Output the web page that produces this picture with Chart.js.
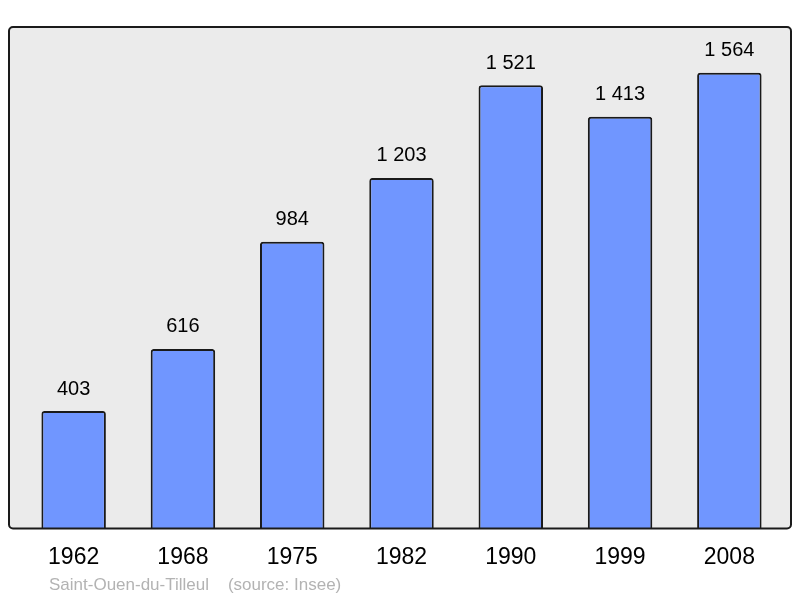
<!DOCTYPE html>
<html><head><meta charset="utf-8">
<script src="https://cdn.jsdelivr.net/npm/chart.js@4/dist/chart.umd.min.js"></script>
<style>html,body{margin:0;padding:0;background:#fff}#wrap{width:800px;height:598px}</style>
</head><body><div id="wrap"><canvas id="c" width="800" height="598"></canvas></div>
<script>
const years = ["1962","1968","1975","1982","1990","1999","2008"];
const population = [403, 616, 984, 1203, 1521, 1413, 1564];
const sourceText = "Saint-Ouen-du-Tilleul    (source: Insee)";

function fmt(v){ return String(v).replace(/\B(?=(\d{3})+(?!\d))/g, " "); }

const framePlugin = {
  id: 'frame',
  beforeDraw(chart){
    const {ctx, chartArea:a} = chart;
    const x0 = a.left - 10, x1 = a.right + 7, y0 = a.top, y1 = a.bottom;
    ctx.save();
    ctx.beginPath();
    ctx.roundRect(x0, y0, x1 - x0, y1 - y0, 4);
    ctx.fillStyle = '#ebebeb';
    ctx.fill();
    ctx.restore();
  },
  afterDatasetsDraw(chart){
    const {ctx, chartArea:a} = chart;
    const x0 = a.left - 10, x1 = a.right + 7, y0 = a.top, y1 = a.bottom;
    ctx.save();
    ctx.beginPath();
    ctx.roundRect(x0, y0, x1 - x0, y1 - y0, 4);
    ctx.lineWidth = 2;
    ctx.strokeStyle = '#1a1a1a';
    ctx.stroke();
    const meta = chart.getDatasetMeta(0);
    ctx.fillStyle = '#000';
    ctx.font = '20px "Liberation Sans", Arial, sans-serif';
    ctx.textAlign = 'center';
    ctx.textBaseline = 'middle';
    meta.data.forEach((bar, i) => {
      ctx.fillText(fmt(population[i]), bar.x, bar.y - 22);
    });
    ctx.font = '17px "Liberation Sans", Arial, sans-serif';
    ctx.fillStyle = '#b3b3b3';
    ctx.textAlign = 'left';
    ctx.fillText(sourceText, 49, 585);
    ctx.restore();
  }
};

new Chart(document.getElementById('c'), {
  type: 'bar',
  data: {
    labels: years,
    datasets: [{
      data: population,
      backgroundColor: '#7096ff',
      borderColor: '#1a1a1a',
      borderWidth: 2,
      borderRadius: {topLeft: 3, topRight: 3, bottomLeft: 0, bottomRight: 0},
      borderSkipped: 'bottom',
      categoryPercentage: 1,
      barPercentage: 0.59
    }]
  },
  options: {
    responsive: false,
    animation: false,
    devicePixelRatio: 1,
    layout: { padding: { left: 19, right: 16, top: 27, bottom: 12 } },
    plugins: { legend: {display:false}, tooltip: {enabled:false} },
    scales: {
      y: { display: false, min: 0, max: 1721 },
      x: {
        grid: { display: false, drawTicks: false },
        border: { display: false },
        ticks: { color: '#000', font: { size: 23, family: '"Liberation Sans", Arial, sans-serif' }, padding: 15, maxRotation: 0 }
      }
    }
  },
  plugins: [framePlugin]
});
</script></body></html>
